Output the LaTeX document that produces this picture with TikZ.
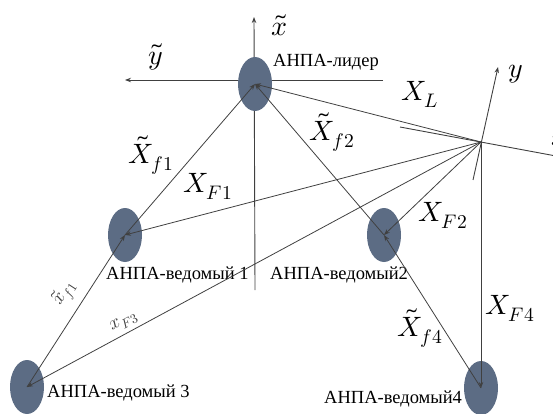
\documentclass[tikz,border=0pt]{standalone}
\usepackage{amsmath}
\usepackage{fontspec}
\usepackage{unicode-math}
\setmainfont{Liberation Serif}
\setmathfont{latinmodern-math.otf}
\usetikzlibrary{arrows.meta,shapes.geometric,calc}
\definecolor{anpa}{RGB}{92,108,132}
\definecolor{ink}{RGB}{64,64,64}
\tikzset{
  drone/.style={ellipse, fill=anpa, minimum width=34pt, minimum height=54pt, inner sep=0pt},
  axisline/.style={ink, line width=0.9pt},
  vec/.style={ink, line width=0.8pt, -{Stealth[length=6pt,width=4.5pt]}},
  rusname/.style={font=\fontsize{18.5}{21}\selectfont, anchor=west, inner sep=0pt},
  biglbl/.style={font=\fontsize{28}{32}\selectfont, inner sep=0pt},
  smalllbl/.style={font=\fontsize{19}{22}\selectfont, sloped, inner sep=2pt}
}
\begin{document}
\begin{tikzpicture}[x=1pt,y=-1pt]
\useasboundingbox (0,0) rectangle (553,414);
% leader frame
\coordinate (xtop) at (254,17);
\coordinate (xbot) at (255,290);
\coordinate (yleft) at (125,80);
\coordinate (yright) at (383,80);
\draw[axisline,-{Stealth[length=6pt,width=4.5pt]}] (xbot) -- (xtop);
\draw[axisline,-{Stealth[length=6pt,width=4.5pt]}] (yright) -- (yleft);
\node[biglbl] (xtl) at (280,25) {$\tilde{x}$};
\node[biglbl] (ytl) at (156,57) {$\tilde{y}$};
% body frame
\coordinate (O) at (481,142);
\coordinate (ybot) at (473,180);
\coordinate (ytop) at (498,67);
\coordinate (xback) at (400,127);
\coordinate (xfwd) at (556,156);
\draw[axisline,-{Stealth[length=6pt,width=4.5pt]}] (ybot) -- (ytop);
\draw[axisline] (xback) -- (xfwd);
\node[biglbl] (ylbl) at (516,74) {$y$};
\node[biglbl] (xlbl) at (559,139) {$x$};
% vehicles
\node[drone] (lead) at (255,84) {};
\node[drone] (f1) at (125,235) {};
\node[drone] (f2) at (384,235) {};
\node[drone] (f3) at (27,387) {};
\node[drone] (f4) at (481,388) {};
\node[rusname] (leadname) at (273,62) {АНПА-лидер};
\node[rusname] (f1name) at (106,275) {АНПА-ведомый 1};
\node[rusname] (f2name) at (270,275) {АНПА-ведомый2};
\node[rusname] (f3name) at (47,393) {АНПА-ведомый 3};
\node[rusname] (f4name) at (324,399) {АНПА-ведомый4};
% vectors from the origin
\draw[vec] (O) -- (lead.center);
\draw[vec] (O) -- (f1.center);
\draw[vec] (O) -- (f2.center);
\draw[vec] (O) -- node[smalllbl, pos=0.775, above=2pt] {$x_{F3}$} (f3.center);
\draw[vec] (O) -- (f4.center);
% vectors between vehicles
\draw[vec] (f1.center) -- (lead.center);
\draw[vec] (f2.center) -- (lead.center);
\draw[vec] (f3.center) -- node[smalllbl, pos=0.55, above=6pt] {$\tilde{x}_{f1}$} (f1.center);
\draw[vec] (f4.center) -- (f2.center);
% labels
\node[biglbl] (lXL) at (420,94) {$X_L$};
\node[biglbl] (lXF1) at (208,186) {$X_{F1}$};
\node[biglbl] (lXF2) at (443,215) {$X_{F2}$};
\node[biglbl] (lXF4) at (510,308) {$X_{F4}$};
\node[biglbl] (lXf1) at (151,155) {$\tilde{X}_{f1}$};
\node[biglbl] (lXf2) at (332,132) {$\tilde{X}_{f2}$};
\node[biglbl] (lXf4) at (420,328) {$\tilde{X}_{f4}$};
\end{tikzpicture}
\end{document}
